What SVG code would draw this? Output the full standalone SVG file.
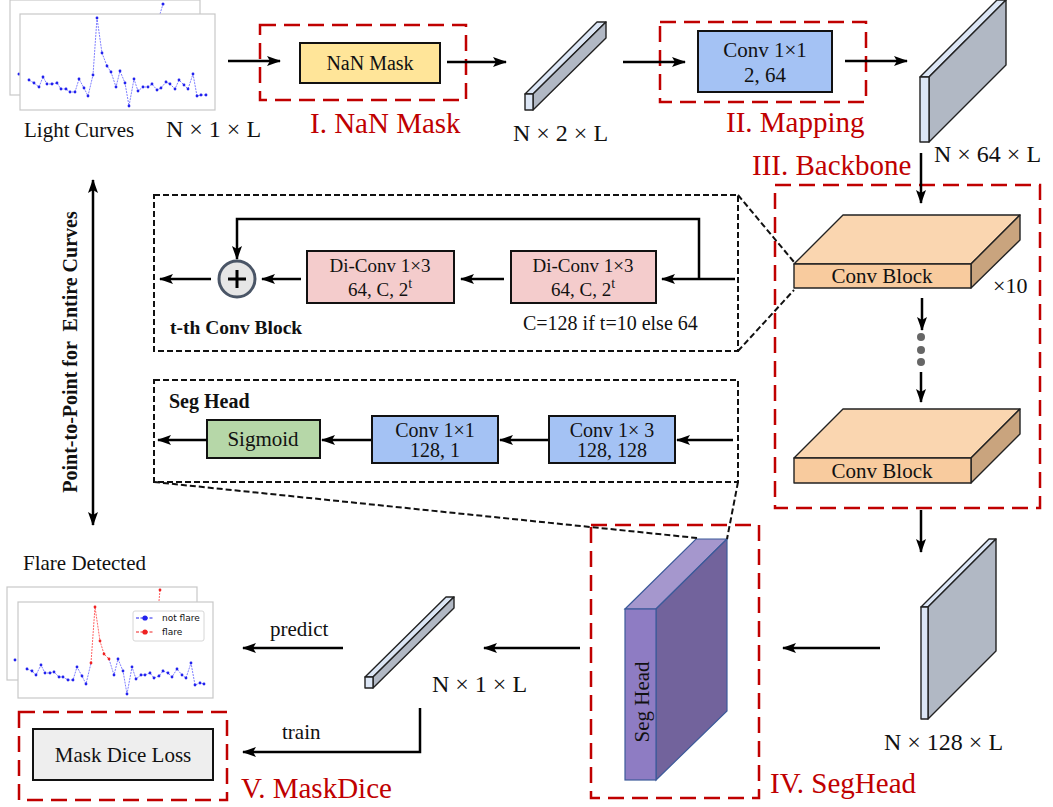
<svg xmlns="http://www.w3.org/2000/svg" width="1053" height="807" viewBox="0 0 1053 807" font-family="'Liberation Serif','DejaVu Serif',serif">
<style>
text{font-family:'Liberation Serif','DejaVu Serif',serif;fill:#111}
.lbl{font-size:24px}
.red{fill:#c00000;font-size:29px}
.box{stroke:#111;stroke-width:2}
.rd{fill:none;stroke:#c00000;stroke-width:2.5;stroke-dasharray:16 8}
.bd{fill:none;stroke:#111;stroke-width:2;stroke-dasharray:6 3}
.ar{fill:none;stroke:#000;stroke-width:2.5;marker-end:url(#ah)}
.bar{stroke:#222;stroke-width:1.4;stroke-linejoin:round}
.lt{fill:#dce6f5}.dk{fill:#b1b8c4}
.cb{stroke:#222;stroke-width:1.4;stroke-linejoin:round}
.panel{fill:#fff;stroke:#c8c8c8;stroke-width:1.2}
.curve{fill:none;stroke:#7070ff;stroke-width:0.9;stroke-dasharray:2 1}
.curveR{fill:none;stroke:#ff5555;stroke-width:0.9;stroke-dasharray:2 1}
.sans{font-family:'DejaVu Sans',sans-serif;font-size:9px}
</style>
<defs>
<marker id="ah" viewBox="0 0 14 10" refX="13" refY="5" markerWidth="14" markerHeight="10" markerUnits="userSpaceOnUse" orient="auto-start-reverse">
<path d="M0,0 L14,5 L0,10 L3,5 z" fill="#000"/>
</marker>
</defs>

<g id="light-curves">
<rect class="panel" x="10" y="0" width="190" height="95"/>
<polyline class="curve" points="160,14 163,4"/>
<circle cx="163" cy="4" r="1.5" fill="#2222ee"/>
<circle cx="19" cy="74" r="1.5" fill="#2222ee"/>
<rect class="panel" x="20" y="14" width="195" height="96"/>
<polyline class="curve" points="29,80 34,83 39,87 43,77 47,84 52,84 57,83 61,89 66,89 70,92 75,92 79,79 84,88 88,96 93,75 97,18 102,53 107,66 111,72 116,87 120,71 125,83 129,106 134,79 138,91 143,87 148,87 152,84 157,90 161,88 166,82 170,84 175,89 179,80 184,85 188,89 193,74 197,96 201,95 206,95"/>
<g fill="#2222ee">
<circle cx="29" cy="80" r="1.4"/><circle cx="34" cy="83" r="1.4"/><circle cx="39" cy="87" r="1.4"/><circle cx="43" cy="77" r="1.4"/><circle cx="47" cy="84" r="1.4"/><circle cx="52" cy="84" r="1.4"/><circle cx="57" cy="83" r="1.4"/><circle cx="61" cy="89" r="1.4"/><circle cx="66" cy="89" r="1.4"/><circle cx="70" cy="92" r="1.4"/><circle cx="75" cy="92" r="1.4"/><circle cx="79" cy="79" r="1.4"/><circle cx="84" cy="88" r="1.4"/><circle cx="88" cy="96" r="1.4"/><circle cx="93" cy="75" r="1.4"/><circle cx="97" cy="18" r="1.4"/><circle cx="102" cy="53" r="1.4"/><circle cx="107" cy="66" r="1.4"/><circle cx="111" cy="72" r="1.4"/><circle cx="116" cy="87" r="1.4"/><circle cx="120" cy="71" r="1.4"/><circle cx="125" cy="83" r="1.4"/><circle cx="129" cy="106" r="1.4"/><circle cx="134" cy="79" r="1.4"/><circle cx="138" cy="91" r="1.4"/><circle cx="143" cy="87" r="1.4"/><circle cx="148" cy="87" r="1.4"/><circle cx="152" cy="84" r="1.4"/><circle cx="157" cy="90" r="1.4"/><circle cx="161" cy="88" r="1.4"/><circle cx="166" cy="82" r="1.4"/><circle cx="170" cy="84" r="1.4"/><circle cx="175" cy="89" r="1.4"/><circle cx="179" cy="80" r="1.4"/><circle cx="184" cy="85" r="1.4"/><circle cx="188" cy="89" r="1.4"/><circle cx="193" cy="74" r="1.4"/><circle cx="197" cy="96" r="1.4"/><circle cx="201" cy="95" r="1.4"/><circle cx="206" cy="95" r="1.4"/>
</g>
<text x="24" y="137" font-size="21">Light Curves</text>
<text class="lbl" x="166" y="137">N × 1 × L</text>
</g>

<g id="nan-mask">
<rect class="rd" x="260" y="25" width="206" height="75"/>
<rect class="box" x="300" y="43" width="140" height="40" fill="#ffe599"/>
<text x="370" y="70" font-size="20" text-anchor="middle">NaN Mask</text>
<text class="red" x="310" y="133">I. NaN Mask</text>
</g>

<g id="tensor-2">
<polygon class="bar lt" points="525,94 597,22 606,22 533,94"/>
<polygon class="bar dk" points="533,94 606,22 606,38 533,110"/>
<rect class="bar lt" x="525" y="94" width="8" height="16"/>
<text class="lbl" x="513" y="141">N × 2 × L</text>
</g>

<g id="mapping">
<rect class="rd" x="660" y="22" width="206" height="80"/>
<rect class="box" x="698" y="31" width="134" height="61" fill="#a4c2f4"/>
<text x="765" y="57" font-size="21" text-anchor="middle">Conv 1×1</text>
<text x="765" y="82" font-size="21" text-anchor="middle">2, 64</text>
<text class="red" x="726" y="132">II. Mapping</text>
</g>

<g id="tensor-64">
<polygon class="bar lt" points="920,77 997,0 1006,0 929,77"/>
<polygon class="bar dk" points="929,77 1006,0 1006,65 929,142"/>
<rect class="bar lt" x="920" y="77" width="9" height="65"/>
<text class="lbl" x="934" y="162">N × 64 × L</text>
</g>

<g id="backbone">
<text class="red" x="752" y="175">III. Backbone</text>
<rect class="rd" x="775" y="185" width="265" height="323"/>
<g id="conv-block-1">
<polygon class="cb" points="794,264 843,215 1020,215 971,264" fill="#fad6b0"/>
<polygon class="cb" points="971,264 1020,215 1020,240 971,288" fill="#c9a47e"/>
<rect class="cb" x="794" y="264" width="177" height="24" fill="#f8cb9e"/>
<text x="882" y="283" font-size="21" text-anchor="middle">Conv Block</text>
</g>
<text x="993" y="293" font-size="22">×10</text>
<g fill="#666">
<circle cx="921" cy="337" r="4"/><circle cx="921" cy="350" r="4"/><circle cx="921" cy="362" r="4"/>
</g>
<g id="conv-block-2">
<polygon class="cb" points="794,458 843,409 1020,409 971,458" fill="#fad6b0"/>
<polygon class="cb" points="971,458 1020,409 1020,434 971,483" fill="#c9a47e"/>
<rect class="cb" x="794" y="458" width="177" height="25" fill="#f8cb9e"/>
<text x="882" y="478" font-size="21" text-anchor="middle">Conv Block</text>
</g>
</g>

<g id="tth-conv-block">
<rect class="bd" x="154" y="195" width="584" height="156"/>
<rect class="box" x="307" y="251" width="147" height="52" fill="#f4cccc"/>
<text x="380" y="272" font-size="19" text-anchor="middle">Di-Conv 1×3</text>
<text x="380" y="296" font-size="19" text-anchor="middle">64, C, 2<tspan dy="-8" font-size="14">t</tspan></text>
<rect class="box" x="511" y="251" width="145" height="52" fill="#f4cccc"/>
<text x="583" y="272" font-size="19" text-anchor="middle">Di-Conv 1×3</text>
<text x="583" y="296" font-size="19" text-anchor="middle">64, C, 2<tspan dy="-8" font-size="14">t</tspan></text>
<circle cx="237" cy="279" r="18" fill="#e6e6e6" stroke="#4a5566" stroke-width="3"/>
<path d="M228,279 H246 M237,270 V288" stroke="#000" stroke-width="3"/>
<text x="523" y="330" font-size="20">C=128 if t=10 else 64</text>
<text x="170" y="334" font-size="19.5" font-weight="bold">t-th Conv Block</text>
</g>

<g id="seg-head-detail">
<rect class="bd" x="154" y="380" width="584" height="102"/>
<text x="169" y="408" font-size="20" font-weight="bold">Seg Head</text>
<rect class="box" x="207" y="420" width="113" height="38" fill="#b6d7a8"/>
<text x="263" y="446" font-size="21" text-anchor="middle">Sigmoid</text>
<rect class="box" x="372" y="416" width="126" height="47" fill="#a4c2f4"/>
<text x="435" y="437" font-size="20" text-anchor="middle">Conv 1×1</text>
<text x="435" y="457" font-size="20" text-anchor="middle">128, 1</text>
<rect class="box" x="549" y="416" width="126" height="47" fill="#a4c2f4"/>
<text x="612" y="437" font-size="20" text-anchor="middle">Conv 1× 3</text>
<text x="612" y="457" font-size="20" text-anchor="middle">128, 128</text>
</g>

<g id="tensor-128">
<polygon class="bar lt" points="921,607 989,539 996,539 928,607"/>
<polygon class="bar dk" points="928,607 996,539 996,651 928,719"/>
<rect class="bar lt" x="921" y="607" width="7" height="112"/>
<text class="lbl" x="884" y="750">N × 128 × L</text>
</g>

<g id="seghead">
<rect class="rd" x="591" y="525" width="168" height="273"/>
<polygon points="625,609 696,539 727,539 656,609" fill="#a597cd" stroke="#3c5a9a" stroke-width="1.2"/>
<polygon points="656,609 727,539 727,711 656,780" fill="#72639c" stroke="#3c5a9a" stroke-width="1.2"/>
<rect x="625" y="609" width="31" height="171" fill="#8e7cc3" stroke="#3c5a9a" stroke-width="1.2"/>
<text transform="translate(649,702) rotate(-90)" font-size="21" text-anchor="middle">Seg Head</text>
<text class="red" x="770" y="793">IV. SegHead</text>
</g>

<g id="tensor-1">
<polygon class="bar lt" points="365,677 446,597 454,597 373,677"/>
<polygon class="bar dk" points="373,677 454,597 454,608 373,688"/>
<rect class="bar lt" x="365" y="677" width="8" height="11"/>
<text class="lbl" x="432" y="692">N × 1 × L</text>
</g>

<g id="flare-detected">
<text x="23" y="570" font-size="21">Flare Detected</text>
<rect class="panel" x="7" y="587" width="190" height="93"/>
<polyline class="curveR" points="159,601 160,590"/>
<circle cx="160" cy="590" r="1.4" fill="#ee2222"/>
<circle cx="15" cy="660" r="1.4" fill="#2222ee"/>
<rect class="panel" x="18" y="602" width="195" height="96"/>
<polyline class="curve" points="27,669 32,671 36,675 41,665 45,673 50,673 54,672 59,677 63,677 68,680 73,680 77,667 82,676 86,684 91,663"/>
<polyline class="curveR" points="91,663 95,607 100,641 104,654 109,659"/>
<polyline class="curve" points="109,659 114,675 118,659 123,671 127,694 132,667 136,679 141,675 145,675 150,673 154,678 159,676 163,671 168,673 172,677 177,669 182,675 186,678 191,663 195,685 200,683 204,684"/>
<g fill="#2222ee">
<circle cx="27" cy="669" r="1.4"/><circle cx="32" cy="671" r="1.4"/><circle cx="36" cy="675" r="1.4"/><circle cx="41" cy="665" r="1.4"/><circle cx="45" cy="673" r="1.4"/><circle cx="50" cy="673" r="1.4"/><circle cx="54" cy="672" r="1.4"/><circle cx="59" cy="677" r="1.4"/><circle cx="63" cy="677" r="1.4"/><circle cx="68" cy="680" r="1.4"/><circle cx="73" cy="680" r="1.4"/><circle cx="77" cy="667" r="1.4"/><circle cx="82" cy="676" r="1.4"/><circle cx="86" cy="684" r="1.4"/>
<circle cx="114" cy="675" r="1.4"/><circle cx="118" cy="659" r="1.4"/><circle cx="123" cy="671" r="1.4"/><circle cx="127" cy="694" r="1.4"/><circle cx="132" cy="667" r="1.4"/><circle cx="136" cy="679" r="1.4"/><circle cx="141" cy="675" r="1.4"/><circle cx="145" cy="675" r="1.4"/><circle cx="150" cy="673" r="1.4"/><circle cx="154" cy="678" r="1.4"/><circle cx="159" cy="676" r="1.4"/><circle cx="163" cy="671" r="1.4"/><circle cx="168" cy="673" r="1.4"/><circle cx="172" cy="677" r="1.4"/><circle cx="177" cy="669" r="1.4"/><circle cx="182" cy="675" r="1.4"/><circle cx="186" cy="678" r="1.4"/><circle cx="191" cy="663" r="1.4"/><circle cx="195" cy="685" r="1.4"/><circle cx="200" cy="683" r="1.4"/><circle cx="204" cy="684" r="1.4"/>
</g>
<g fill="#ee2222">
<circle cx="91" cy="663" r="1.4"/><circle cx="95" cy="607" r="1.4"/><circle cx="100" cy="641" r="1.4"/><circle cx="104" cy="654" r="1.4"/><circle cx="109" cy="659" r="1.4"/>
</g>
<rect x="133" y="611" width="71" height="30" rx="2" fill="#fff" stroke="#d6d6d6" stroke-width="1"/>
<line x1="136" y1="618" x2="154" y2="618" stroke="#2222ee" stroke-width="1" stroke-dasharray="3 1.5"/>
<circle cx="145" cy="618" r="2.6" fill="#2222ee"/>
<line x1="136" y1="632" x2="154" y2="632" stroke="#ee2222" stroke-width="1" stroke-dasharray="3 1.5"/>
<circle cx="145" cy="632" r="2.6" fill="#ee2222"/>
<text class="sans" x="162" y="621">not flare</text>
<text class="sans" x="162" y="635">flare</text>
</g>

<g id="maskdice">
<rect class="rd" x="19" y="712" width="208" height="88"/>
<rect class="box" x="33" y="729" width="180" height="51" fill="#eeeeee"/>
<text x="123" y="762" font-size="21" text-anchor="middle">Mask Dice Loss</text>
<text class="red" x="241" y="798">V. MaskDice</text>
</g>

<g id="scope">
<text transform="translate(77,352) rotate(-90)" font-size="20" font-weight="bold" text-anchor="middle" style="white-space:pre">Point-to-Point for  Entire Curves</text>
</g>

<g id="connectors">
<path class="ar" d="M228,61 H280"/>
<path class="ar" d="M447,62 H506"/>
<path class="ar" d="M623,62 H685"/>
<path class="ar" d="M845,61 H907"/>
<path class="ar" d="M921,153 V203"/>
<path class="ar" d="M922,298 V330"/>
<path class="ar" d="M921,372 V402"/>
<path class="ar" d="M921,510 V552"/>
<path class="ar" d="M880,648 H783"/>
<path class="ar" d="M580,648 H484"/>
<path class="ar" d="M343,648 H243"/>
<path class="ar" d="M420,708 V752 H243"/>
<path class="ar" d="M93,180 V525" style="marker-start:url(#ah)"/>
<text x="270" y="636" font-size="21">predict</text>
<text x="282" y="739" font-size="21">train</text>
<path class="ar" d="M735,279 H662"/>
<path class="ar" d="M699,279 V219 H237 V259"/>
<path class="ar" d="M504,279 H461"/>
<path class="ar" d="M301,279 H262"/>
<path class="ar" d="M211,279 H160"/>
<path class="ar" d="M733,440 H677"/>
<path class="ar" d="M548,440 H500"/>
<path class="ar" d="M371,440 H322"/>
<path class="ar" d="M207,440 H158"/>
<path class="bd" d="M738,195 L794,262"/>
<path class="bd" d="M738,351 L794,290"/>
<path class="bd" d="M154,482 L697,538"/>
<path class="bd" d="M738,482 L727,539"/>
</g>
</svg>
